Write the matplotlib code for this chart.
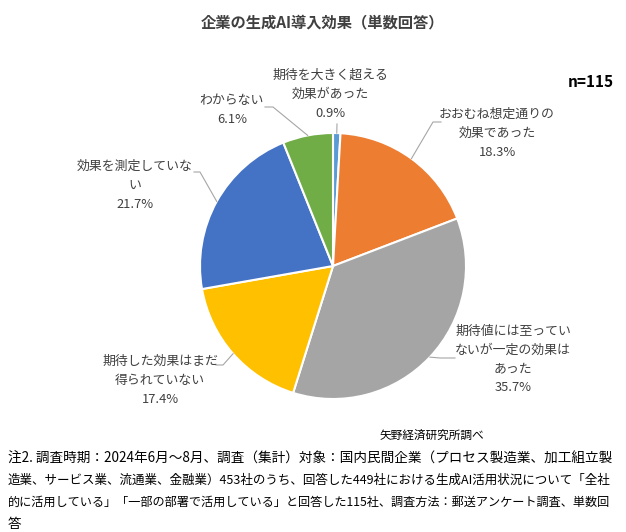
import matplotlib
matplotlib.use('Agg')
import numpy as np
import matplotlib.pyplot as plt

plt.rcParams['font.family'] = ['Noto Sans CJK JP', 'DejaVu Sans']

# data
labels = ['期待を大きく超える\n効果があった', 'おおむね想定通りの\n効果であった',
          '期待値には至ってい\nないが一定の効果は\nあった', '期待した効果はまだ\n得られていない',
          '効果を測定していな\nい', 'わからない']
values = [0.9, 18.3, 35.7, 17.4, 21.7, 6.1]
colors = ['#5B9BD5', '#ED7D31', '#A5A5A5', '#FFC000', '#4472C4', '#70AD47']

W, H = 626, 532
fig = plt.figure(figsize=(W / 100, H / 100), dpi=100)

# pie centre / radius in pixels
cx, cy, r = 333, 266, 133
ax = fig.add_axes([(cx - r) / W, 1 - (cy + r) / H, 2 * r / W, 2 * r / H])
wedges, _ = ax.pie(values, colors=colors, startangle=90, counterclock=False,
                   radius=1, wedgeprops=dict(edgecolor='white', linewidth=1.5))
ax.set_xlim(-1, 1)
ax.set_ylim(-1, 1)
ax.set_aspect('equal')
ax.axis('off')


def px(x, y):
    return x / W, 1 - y / H


# label layout: text centre x, top y, elbow point, end of horizontal tick
layout = [
    dict(tx=330, ty=69, elbow=(337, 124), tick=None),
    dict(tx=497, ty=108, elbow=(433, 122), tick=(441, 122)),
    dict(tx=513, ty=325, elbow=(440, 358), tick=(455, 358)),
    dict(tx=160, ty=355, elbow=(223, 365), tick=(216, 365)),
    dict(tx=135, ty=160, elbow=(200, 172), tick=(194, 172)),
    dict(tx=232, ty=94, elbow=(273, 107), tick=(265, 107)),
]

text_col = '#404040'
line_col = '#A6A6A6'
to_px = ax.transData
for w, lab, val, lay in zip(wedges, labels, values, layout):
    mid = np.deg2rad((w.theta1 + w.theta2) / 2)
    ex, ey = to_px.transform((np.cos(mid), np.sin(mid)))
    ey = H - ey
    pts = [(ex, ey), lay['elbow']]
    if lay['tick']:
        pts.append(lay['tick'])
    xs = [p[0] / W for p in pts]
    ys = [1 - p[1] / H for p in pts]
    fig.add_artist(plt.Line2D(xs, ys, color=line_col, linewidth=0.8))
    fig.text(*px(lay['tx'], lay['ty']), f'{lab}\n{val}%', ha='center', va='top',
             fontsize=9.3, color=text_col, linespacing=1.58)

fig.text(*px(322, 22), '企業の生成AI導入効果（単数回答）', ha='center', va='center',
         fontsize=11, fontweight='bold', color=text_col)
fig.text(*px(614, 82), 'n=115', ha='right', va='center', fontsize=11,
         fontweight='bold', color='black')

fig.text(*px(484, 435), '矢野経済研究所調べ', ha='right', va='center',
         fontsize=8.4, color='black')
note_lines = [
    '注2. 調査時期：2024年6月～8月、調査（集計）対象：国内民間企業（プロセス製造業、加工組立製',
    '造業、サービス業、流通業、金融業）453社のうち、回答した449社における生成AI活用状況について「全社',
    '的に活用している」「一部の部署で活用している」と回答した115社、調査方法：郵送アンケート調査、単数回',
    '答',
]
# fit each footnote line to the text width of the reference
renderer = fig.canvas.get_renderer()
target = 604
sizes = []
for line in note_lines[:3]:
    t = fig.text(0, 0, line, fontsize=10)
    wpx = t.get_window_extent(renderer).width
    t.remove()
    sizes.append(10 * target / wpx)
sizes.append(sizes[0])
for i, (line, fs) in enumerate(zip(note_lines, sizes)):
    fig.text(*px(8, 459 + i * 21.7), line, ha='left', va='center',
             fontsize=fs, color='black')

fig.savefig('out.png', dpi=100)
